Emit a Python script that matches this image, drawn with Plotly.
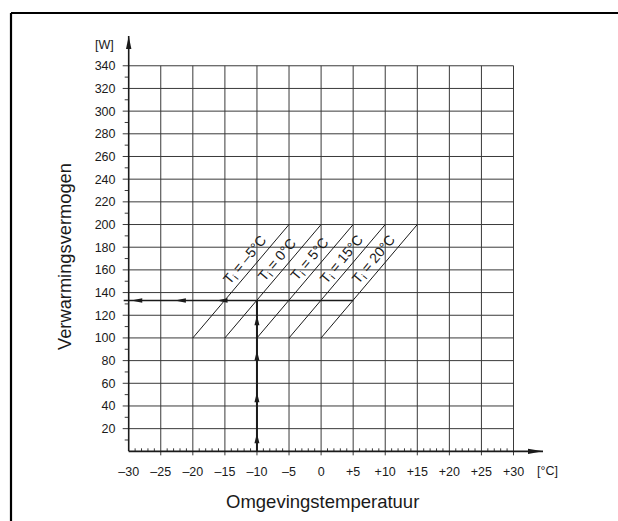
import plotly.graph_objects as go

# ---------------- data ----------------
x_ticks = [-30, -25, -20, -15, -10, -5, 0, 5, 10, 15, 20, 25, 30]
x_tick_labels = ["–30", "–25", "–20", "–15", "–10", "–5", "0", "+5", "+10",
                 "+15", "+20", "+25", "+30"]
y_ticks = [20, 40, 60, 80, 100, 120, 140, 160, 180, 200, 220, 240, 260, 280,
           300, 320, 340]
y_tick_labels = [str(v) for v in y_ticks]
y_minor = [10, 30, 50, 70, 90, 110, 130, 150, 170, 190, 210, 230, 250, 270,
           290, 310, 330]
x_minor = [v for v in range(-29, 30) if v % 5 != 0]

inside_temps = [-5, 0, 5, 15, 20]          # T_i labels
curve_ambient_low = [-20, -15, -10, -5, 0]
curve_ambient_high = [-5, 0, 5, 10, 15]
curve_power_low = [100, 100, 100, 100, 100]
curve_power_high = [200, 200, 200, 200, 200]

example_ambient = -10
example_power = 133
example_line_end = 5
up_arrow_power = [16, 52, 89, 120]
left_arrow_ambient = [-29.6, -22.8, -16.3]

x_max = 30
y_max = 340

# ---------------- layout geometry ----------------
W, H = 618, 521
ML, MR, MT, MB = 121, 75, 36, 64
XR = [-31.2, 34.6]
YR = [-5, 366.25]
PW, PH = W - ML - MR, H - MT - MB
PX_X = PW / (XR[1] - XR[0])
PY_Y = PH / (YR[1] - YR[0])

def px2paper(px, py):
    return (px - ML) / PW, (H - MB - py) / PH

INK = "#1a1a1a"
GRID = "#3a3a3a"
FONT = "Liberation Sans, Arial, sans-serif"

fig = go.Figure()

def seg_trace(xs, ys, width, color):
    fig.add_trace(go.Scatter(x=xs, y=ys, mode="lines",
                             line=dict(color=color, width=width),
                             hoverinfo="skip", showlegend=False))

# horizontal grid lines (with small extension left of the axis)
gx, gy = [], []
for v in y_ticks:
    gx += [-30 - 6 / PX_X, x_max, None]
    gy += [v, v, None]
seg_trace(gx, gy, 1, GRID)

# vertical grid lines (with small extension below the axis)
gx, gy = [], []
for v in x_ticks[1:]:
    gx += [v, v, None]
    gy += [-4 / PY_Y, y_max, None]
seg_trace(gx, gy, 1, GRID)

# minor ticks
gx, gy = [], []
for v in y_minor:
    gx += [-30 - 4 / PX_X, -30, None]
    gy += [v, v, None]
for v in x_minor:
    gx += [v, v, None]
    gy += [0, 3 / PY_Y, None]
seg_trace(gx, gy, 1, GRID)

# axes lines
seg_trace([-30, -30], [0, YR[1]], 1.6, INK)
seg_trace([-30, XR[1]], [0, 0], 1.6, INK)

# heating curves
cx, cy = [], []
for a0, a1, p0, p1 in zip(curve_ambient_low, curve_ambient_high,
                          curve_power_low, curve_power_high):
    cx += [a0, a1, None]
    cy += [p0, p1, None]
seg_trace(cx, cy, 1, INK)

# example reading
seg_trace([example_ambient, example_ambient], [0, example_power], 2, INK)
seg_trace([-30 - 5 / PX_X, example_line_end], [example_power, example_power], 1.5, INK)

# arrowheads as filled triangles
shapes = []

def arrow_up(x, y, length_px, half_px):
    dx = half_px / PX_X
    dy = length_px / PY_Y
    return dict(type="path", xref="x", yref="y",
                path=f"M {x - dx},{y - dy} L {x},{y} L {x + dx},{y - dy} Z",
                fillcolor=INK, line=dict(width=0))

def arrow_left(x, y, length_px, half_px):
    dx = length_px / PX_X
    dy = half_px / PY_Y
    return dict(type="path", xref="x", yref="y",
                path=f"M {x + dx},{y - dy} L {x},{y} L {x + dx},{y + dy} Z",
                fillcolor=INK, line=dict(width=0))

def arrow_right(x, y, length_px, half_px):
    dx = length_px / PX_X
    dy = half_px / PY_Y
    return dict(type="path", xref="x", yref="y",
                path=f"M {x - dx},{y - dy} L {x},{y} L {x - dx},{y + dy} Z",
                fillcolor=INK, line=dict(width=0))

shapes.append(arrow_up(-30, YR[1], 13, 2.7))
shapes.append(arrow_right(XR[1], 0, 15, 2.7))
for p in up_arrow_power:
    shapes.append(arrow_up(example_ambient, p, 10, 2.5))
for a in left_arrow_ambient:
    shapes.append(arrow_left(a, example_power, 11, 2.2))

# frame (top and left edges)
bx0, by0 = px2paper(11, 13)
bx1, _ = px2paper(W + 2, 13)
_, by1 = px2paper(11, H + 2)
shapes.append(dict(type="line", xref="paper", yref="paper",
                   x0=bx0, y0=by0, x1=bx1, y1=by0, line=dict(color="black", width=2.2)))
shapes.append(dict(type="line", xref="paper", yref="paper",
                   x0=bx0, y0=by0, x1=bx0, y1=by1, line=dict(color="black", width=2.2)))

annotations = []
for t, a0 in zip(inside_temps, curve_ambient_low):
    tl = f"–{abs(t)}" if t < 0 else f"{t}"
    annotations.append(dict(x=a0 + 8.2, y=169, xref="x", yref="y",
                            text=f"T<sub>i</sub> = {tl}°C", showarrow=False,
                            textangle=-50, font=dict(size=14, color=INK, family=FONT)))

def paper_text(px, py, text, size, angle=0):
    x, y = px2paper(px, py)
    annotations.append(dict(x=x, y=y, xref="paper", yref="paper", text=text,
                            showarrow=False, textangle=angle,
                            xanchor="center", yanchor="middle",
                            font=dict(size=size, color=INK, family=FONT)))

paper_text(104, 45, "[W]", 12.5)
paper_text(547, 471, "[°C]", 12.5)
paper_text(64, 257, "Verwarmingsvermogen", 18.3, -90)
paper_text(322, 502, "Omgevingstemperatuur", 18.5)

fig.update_layout(
    width=W, height=H,
    margin=dict(l=ML, r=MR, t=MT, b=MB),
    paper_bgcolor="white", plot_bgcolor="white",
    showlegend=False, hovermode=False,
    shapes=shapes, annotations=annotations,
    font=dict(family=FONT, color=INK, size=12.5),
    xaxis=dict(range=XR, tickmode="array", tickvals=x_ticks, ticktext=x_tick_labels,
               showgrid=False, zeroline=False, showline=False,
               ticks="outside", ticklen=3, tickcolor="rgba(0,0,0,0)",
               tickfont=dict(size=12.5, color=INK, family=FONT), fixedrange=True),
    yaxis=dict(range=YR, tickmode="array", tickvals=y_ticks, ticktext=y_tick_labels,
               showgrid=False, zeroline=False, showline=False,
               ticks="outside", ticklen=2, tickcolor="rgba(0,0,0,0)",
               tickfont=dict(size=12.5, color=INK, family=FONT), fixedrange=True),
)

fig.write_html("out.html", config={"displayModeBar": False},
               post_script="document.body.style.margin='0';document.body.style.overflow='hidden';")
